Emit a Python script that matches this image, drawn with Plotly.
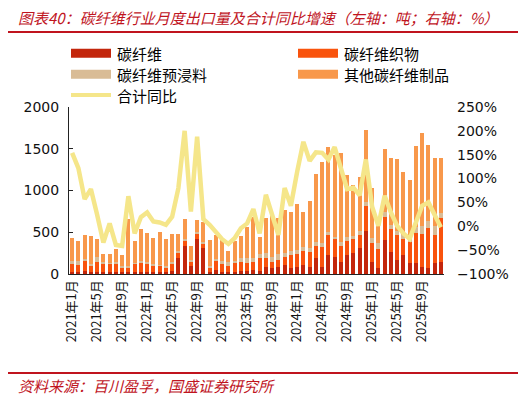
import plotly.graph_objects as go

months = [f"{y}年{m}月" for y in range(2021, 2026) for m in range(1, 13)]
tick_labels = months[::4]

cf = [25, 20, 35, 25, 30, 25, 25, 30, 20, 20, 25, 30, 30, 25, 25, 20,
      40, 190, 330, 90, 415, 307, 25, 50, 30, 25, 30, 35, 35, 45,
      40, 88, 68, 88, 108, 68, 88, 108, 88, 188, 88, 228, 200, 148, 228,
      248, 308, 515, 148, 68, 407, 268, 168, 228, 128, 128, 88, 68, 128, 148]
fabric = [95, 88, 125, 75, 118, 103, 95, 98, 56, 56, 95, 106, 98, 71, 71, 60,
          80, 65, 65, 58, 72, 60, 51, 110, 98, 75, 98, 113, 101, 103,
          148, 100, 80, 80, 100, 160, 156, 168, 180, 147, 239, 239, 219, 187, 171,
          175, 159, 303, 219, 232, 280, 271, 299, 191, 259, 359, 387, 479, 339, 527]
prepreg = [30, 42, 25, 25, 52, 12, 15, 12, 14, 19, 16, 16, 20, 24, 16, 20,
           25, 17, 30, 17, 15, 15, 20, 20, 22, 48, 32, 39, 57, 45,
           48, 60, 60, 70, 45, 48, 44, 51, 48, 45, 40, 40, 28, 52, 48,
           36, 52, 48, 60, 67, 60, 48, 52, 48, 40, 80, 100, 88, 108, 52]
other = [278, 245, 282, 326, 223, 100, 105, 163, 134, 560, 265, 381, 343, 309, 388, 323,
         334, 207, 238, 174, 149, 237, 313, 289, 263, 124, 235, 274, 374, 490,
         207, 421, 515, 431, 514, 461, 548, 414, 558, 816, 971, 1011, 983, 1059, 743,
         611, 647, 859, 599, 223, 747, 799, 859, 751, 695, 970, 1118, 910, 819, 659]
yoy = [154, 122, 57, 78, 24, -34, 6, -39, -41, 63, -15, 19, 29, 10, 8, 3,
       20, 80, 200, 31, 188, 15, 3, -13, -27, -37, -25, -4, 6, 36,
       -15, 66, 24, -18, 80, 43, 114, 177, 137, 155, 154, 140, 166, 125, 78,
       81, 65, 140, 41, 1, 64, 29, 1, -15, -26, 8, 43, 50, 26, -2]

names = ["碳纤维", "碳纤维织物", "碳纤维预浸料", "其他碳纤维制品", "合计同比"]
colors = ["#C3260C", "#F9530D", "#D9BC96", "#F8984B", "#F5E68A"]

CJK = "Noto Sans CJK SC"
NUM = "DejaVu Sans"

fig = go.Figure()
for nm, vals, col in zip(names[:4], [cf, fabric, prepreg, other], colors[:4]):
    fig.add_bar(x=months, y=vals, name=nm, marker_color=col, marker_line_width=0, showlegend=False)
fig.add_scatter(x=months, y=yoy, name=names[4], yaxis="y2", mode="lines",
                line=dict(color=colors[4], width=4.5), showlegend=False)

OFF = 8  # page body margin
W, H = 526 - OFF, 398 - OFF
SL, SR, ST, SB = 69, 444, 107, 274
L, R, T, B = SL - OFF, SR - OFF, ST - OFF, SB - OFF


def px(x):
    return (x - SL) / (SR - SL)


def py(y):
    return (SB - y) / (SB - ST)


shapes = []
annotations = []
leg = [(71, 53.3, 0), (298, 53.3, 1), (71, 74.3, 2), (298, 74.3, 3)]
for x0, yc, k in leg:
    shapes.append(dict(type="rect", xref="paper", yref="paper", x0=px(x0), x1=px(x0 + 40),
                       y0=py(yc + 4.5), y1=py(yc - 4.5), fillcolor=colors[k], line_width=0))
    annotations.append(dict(xref="paper", yref="paper", x=px(x0 + 44), y=py(yc), text=names[k],
                            showarrow=False, xanchor="left", yanchor="middle",
                            font=dict(family=CJK, size=15, color="#000")))
shapes.append(dict(type="rect", xref="paper", yref="paper", x0=px(71), x1=px(111),
                   y0=py(97), y1=py(93), fillcolor=colors[4], line_width=0))
annotations.append(dict(xref="paper", yref="paper", x=px(115), y=py(95), text=names[4],
                        showarrow=False, xanchor="left", yanchor="middle",
                        font=dict(family=CJK, size=15, color="#000")))

red = "#C0141E"
annotations.append(dict(xref="paper", yref="paper", x=px(16), y=py(18),
                        text="图表40：碳纤维行业月度出口量及合计同比增速（左轴：吨；右轴：%）",
                        showarrow=False, xanchor="left", yanchor="middle",
                        font=dict(family=CJK, size=15, color=red, style="italic")))
annotations.append(dict(xref="paper", yref="paper", x=px(16), y=py(385),
                        text="资料来源：百川盈孚，国盛证券研究所",
                        showarrow=False, xanchor="left", yanchor="middle",
                        font=dict(family=CJK, size=15, color=red, style="italic")))
shapes.append(dict(type="line", xref="paper", yref="paper", x0=px(8), x1=px(520),
                   y0=py(32), y1=py(32), line=dict(color=red, width=2)))
shapes.append(dict(type="line", xref="paper", yref="paper", x0=px(8), x1=px(518),
                   y0=py(373), y1=py(373), line=dict(color=red, width=2)))

fig.update_layout(
    width=W, height=H,
    margin=dict(l=L, r=W - R, t=T, b=H - B, pad=0),
    paper_bgcolor="white", plot_bgcolor="white",
    barmode="stack", bargap=0.35,
    shapes=shapes, annotations=annotations,
    xaxis=dict(type="category", tickmode="array", tickvals=tick_labels, ticktext=tick_labels,
               tickangle=-90, tickfont=dict(family=CJK, size=13, color="#111"),
               showline=True, linecolor="#222", linewidth=1, ticks="", showgrid=False,
               automargin=False),
    yaxis=dict(range=[0, 2000], tickmode="linear", tick0=0, dtick=500, showgrid=False,
               zeroline=False, showline=True, linecolor="#222", linewidth=1,
               ticks="inside", ticklen=4, tickcolor="#222", automargin=False,
               tickfont=dict(family=NUM, size=14, color="#111"), ticklabelstandoff=6),
    yaxis2=dict(range=[-100, 250], tickmode="linear", tick0=-100, dtick=50,
                ticksuffix="%", overlaying="y", side="right", showgrid=False,
                zeroline=False, showline=False, automargin=False,
                tickfont=dict(family=NUM, size=14, color="#111"), ticklabelstandoff=12),
)

fig.write_html("out.html")
